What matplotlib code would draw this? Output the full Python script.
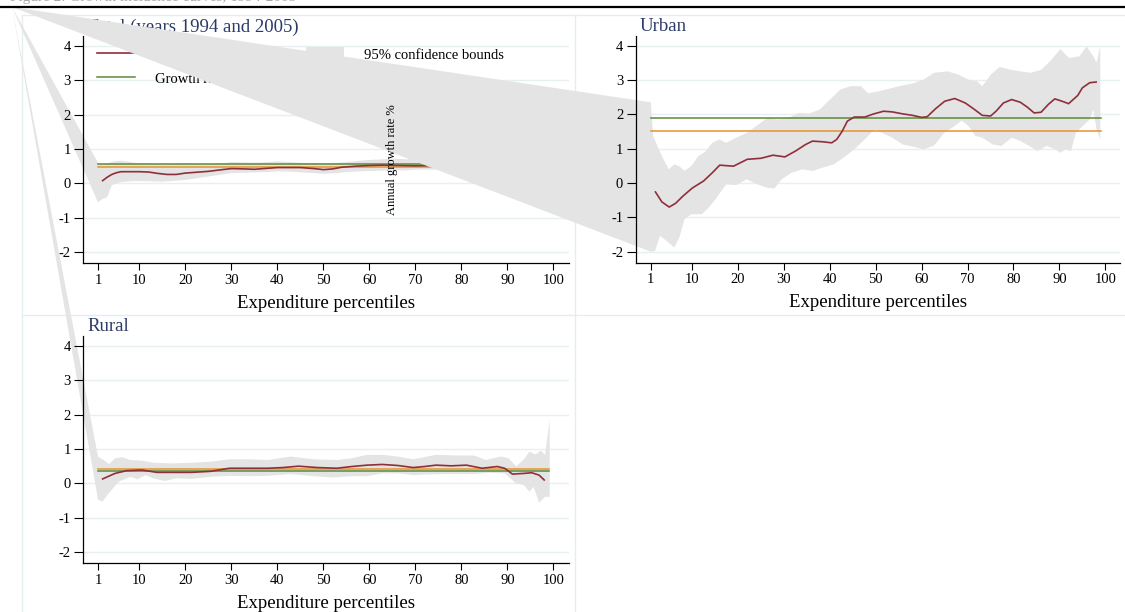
import numpy as np
import matplotlib
matplotlib.use("Agg")
import matplotlib.pyplot as plt
from matplotlib.lines import Line2D
from matplotlib.patches import Patch, Polygon
from matplotlib.transforms import IdentityTransform

plt.rcParams['font.family'] = ['Liberation Serif', 'DejaVu Serif']
plt.rcParams['axes.unicode_minus'] = False

W, H = 1125, 612

# ---------------- data ----------------
xticks = [1, 10, 20, 30, 40, 50, 60, 70, 80, 90, 100]
yticks = [-2, -1, 0, 1, 2, 3, 4]
pct_span = [1, 99]

# Total
tot_gic_x = [2, 3, 4, 5, 6, 8, 10, 12, 14, 16, 18, 20, 22, 25, 28, 30, 33, 35, 38, 40,
             43, 45, 48, 50, 52, 54, 57, 60, 63, 66, 70, 74, 78, 82, 86, 90, 94, 96, 98]
tot_gic_y = [0.08, 0.18, 0.26, 0.31, 0.34, 0.34, 0.34, 0.33, 0.29, 0.26, 0.26, 0.30, 0.32, 0.35,
             0.40, 0.43, 0.42, 0.41, 0.44, 0.46, 0.46, 0.46, 0.43, 0.40, 0.42, 0.47, 0.50, 0.52,
             0.53, 0.52, 0.51, 0.52, 0.54, 0.53, 0.52, 0.53, 0.50, 0.45, 0.40]
tot_rate_in_mean = 0.56
tot_mean_of_rates = 0.49
tot_band_x = [1, 2, 3, 4, 5, 6, 8, 10, 12, 15, 18, 20, 22, 25, 28, 30, 33, 35, 38, 40,
              43, 45, 48, 50, 53, 55, 58, 60, 63, 65, 68, 70, 74, 78, 82, 86, 90, 93, 95, 97,
              98, 99]
tot_band_hi = [0.60, 0.55, 0.58, 0.62, 0.65, 0.66, 0.62, 0.58, 0.57, 0.55, 0.56, 0.58, 0.56, 0.55,
               0.58, 0.62, 0.61, 0.60, 0.62, 0.64, 0.62, 0.60, 0.59, 0.58, 0.60, 0.62, 0.66, 0.68,
               0.70, 0.72, 0.70, 0.72, 0.72, 0.74, 0.73, 0.72, 0.74, 0.78, 0.90, 1.20, 1.60, 2.80]
tot_band_lo = [-0.55, -0.45, -0.40, -0.05, 0.00, 0.04, 0.06, 0.07, 0.06, 0.05, 0.08, 0.10, 0.14,
               0.20, 0.26, 0.30, 0.31, 0.32, 0.33, 0.35, 0.34, 0.32, 0.30, 0.28, 0.30, 0.33, 0.35,
               0.36, 0.37, 0.38, 0.38, 0.40, 0.40, 0.40, 0.39, 0.38, 0.36, 0.30, 0.20, 0.05, -0.20,
               -0.50]

# Urban
urb_gic_x = [2, 3.4, 5, 6.4, 8, 10, 12.5, 14.4, 16, 19, 22, 25, 27.6, 30.2, 32.5, 34.7, 36.2,
             38.5, 40.4, 41.5, 42.7, 43.8, 45.3, 47.6, 49.5, 51.7, 53.6, 56, 58, 60, 61.2, 63,
             65, 67.2, 69.5, 71.3, 73.2, 75, 76.2, 77.8, 79.6, 81.5, 83, 84.5, 86, 87.6, 89,
             90.6, 92, 94, 95, 96.6, 98]
urb_gic_y = [-0.26, -0.55, -0.70, -0.59, -0.38, -0.15, 0.06, 0.30, 0.52, 0.49, 0.69, 0.72, 0.81,
             0.76, 0.93, 1.12, 1.22, 1.20, 1.17, 1.27, 1.51, 1.80, 1.92, 1.92, 2.01, 2.09, 2.07,
             2.01, 1.97, 1.91, 1.93, 2.16, 2.38, 2.46, 2.33, 2.16, 1.97, 1.95, 2.09, 2.33, 2.43,
             2.35, 2.21, 2.04, 2.06, 2.29, 2.45, 2.38, 2.31, 2.55, 2.77, 2.92, 2.94]
urb_rate_in_mean = 1.89
urb_mean_of_rates = 1.52
urb_hi_x = [1, 1.5, 2.3, 3.4, 4.9, 6.1, 7.2, 8.3, 9.8, 11.3, 12.8, 14.4, 15.9, 17.4, 19.6, 21.9,
            24.2, 26.4, 28.7, 31, 33.2, 35.5, 37.8, 40, 42.3, 44.5, 46.8, 48.3, 50.6, 52.8, 55.1,
            58.1, 60.4, 62.7, 65.7, 67.9, 70.2, 72.1, 73.2, 75.1, 77, 79.3, 81.5, 83.8, 86.1,
            88.3, 90.2, 92.1, 94.4, 95.9, 97.4, 98.1, 98.9]
urb_hi_y = [2.35, 1.37, 1.12, 0.78, 0.40, 0.54, 0.49, 0.35, 0.49, 0.78, 0.90, 1.17, 1.27, 1.17,
            1.32, 1.46, 1.68, 1.90, 1.85, 1.90, 2.04, 2.02, 2.14, 2.43, 2.72, 2.82, 2.82, 2.61,
            2.67, 2.74, 2.82, 2.90, 3.01, 3.21, 3.25, 3.16, 3.01, 2.96, 2.82, 3.16, 3.38, 3.30,
            3.25, 3.21, 3.30, 3.59, 3.90, 3.64, 3.69, 3.98, 3.69, 3.50, 3.98]
urb_lo_x = [1, 1.9, 3.0, 4.5, 6.1, 7.2, 8.3, 9.8, 12.1, 13.6, 15.1, 17.4, 19.6, 21.9, 24.2, 26.4,
            27.9, 29.5, 31.7, 34, 36.2, 38.5, 40.8, 43, 45.3, 47.6, 49.8, 51.3, 53.6, 55.9, 58.1,
            60.4, 62.7, 64.9, 67.2, 68.7, 70.2, 71.7, 73.2, 75.5, 77.4, 79.6, 81.5, 83.4, 85.3,
            87.2, 89.1, 90.2, 91.3, 92.5, 93.6, 94.7, 96.6, 97.4, 98.1, 98.9]
urb_lo_y = [-2.00, -1.98, -1.54, -1.69, -1.88, -1.59, -1.06, -0.91, -0.91, -0.72, -0.47, -0.04,
            -0.06, 0.11, -0.04, -0.14, -0.16, 0.11, 0.30, 0.40, 0.35, 0.45, 0.54, 0.74, 0.98,
            1.27, 1.56, 1.46, 1.32, 1.12, 1.06, 0.98, 1.09, 1.46, 1.66, 1.82, 1.66, 1.37, 1.32,
            1.12, 1.08, 1.32, 1.22, 1.08, 0.93, 1.08, 0.98, 0.88, 0.98, 0.93, 1.46, 1.61, 1.85,
            2.14, 1.56, 1.27]

# Rural
rur_gic_x = [2, 4.7, 7.2, 10.5, 13.8, 17.1, 21.3, 25.4, 29.6, 33.8, 37.9, 41.2, 44.6, 48.7,
             52.9, 56.2, 59.5, 62.8, 66.2, 69.5, 72, 74.5, 77.8, 81.1, 84.5, 87.8, 89.4, 91.1,
             93.6, 95.3, 96.9, 98]
rur_gic_y = [0.13, 0.29, 0.37, 0.39, 0.32, 0.32, 0.32, 0.35, 0.44, 0.44, 0.44, 0.46, 0.50, 0.46,
             0.44, 0.49, 0.53, 0.55, 0.52, 0.46, 0.49, 0.53, 0.51, 0.53, 0.44, 0.49, 0.44, 0.27,
             0.29, 0.31, 0.24, 0.10]
rur_rate_in_mean = 0.36
rur_mean_of_rates = 0.42
rur_hi_x = [1, 2.2, 3.4, 4.7, 6.3, 8, 10.5, 13, 17.1, 21.3, 25.4, 29.6, 33.8, 37.9, 42.9, 47.9,
            52.9, 56.2, 59.5, 62.8, 66.2, 69.5, 74.5, 79.5, 82.8, 85.3, 88.6, 90.3, 91.9, 93.6,
            94.8, 96.1, 97.3, 98.2, 99.2]
rur_hi_y = [0.78, 0.68, 0.56, 0.73, 0.76, 0.68, 0.66, 0.60, 0.58, 0.60, 0.63, 0.70, 0.70, 0.68,
            0.78, 0.70, 0.68, 0.73, 0.83, 0.83, 0.78, 0.70, 0.83, 0.81, 0.81, 0.68, 0.78, 0.73,
            0.49, 0.70, 0.92, 0.84, 0.95, 0.83, 1.84]
rur_lo_x = [1, 2, 3, 4.2, 5.5, 8, 9.6, 11.3, 13, 15.5, 18, 21.3, 25.4, 29.6, 33.8, 37.9, 42.9,
            47.9, 52, 56.2, 59.5, 62.8, 66.2, 69.5, 72.8, 76.1, 79.5, 82.8, 86.1, 89.4, 91.9,
            93.6, 94.8, 95.7, 96.9, 98.2, 99.2]
rur_lo_y = [-0.47, -0.53, -0.34, -0.15, 0.05, 0.19, 0.12, 0.24, 0.15, 0.07, 0.15, 0.13, 0.19,
            0.22, 0.21, 0.22, 0.27, 0.21, 0.17, 0.21, 0.21, 0.29, 0.29, 0.24, 0.26, 0.27, 0.27,
            0.27, 0.31, 0.29, 0.00, -0.05, -0.24, -0.10, -0.56, -0.39, -0.39]

# ---------------- style ----------------
c_gic = '#8f2f3b'
c_mean = '#5b8a36'
c_rates = '#e8922f'
c_band = '#e4e4e4'
c_title = '#2b3a66'
c_grid = '#e8eff1'
c_cell = '#e6edf0'
corner = (12, H - 7)   # every band polygon starts here (pixels)


def px_axes(left, right, top, bottom):
    return fig.add_axes([left / W, 1 - bottom / H, (right - left) / W, (bottom - top) / H])


def band(ax, xh, yh, xl, yl):
    up = ax.transData.transform(np.column_stack([xh, yh]))
    lo = ax.transData.transform(np.column_stack([xl, yl]))[::-1]
    verts = np.vstack([[corner], up, lo])
    ax.add_patch(Polygon(verts, closed=True, transform=IdentityTransform(),
                         facecolor=c_band, edgecolor='none', zorder=1, clip_on=False))


def panel(ax, title, xlim, gx, gy, rmean, rrates, xh, yh, xl, yl):
    ax.set_facecolor('none')
    ax.set_xlim(*xlim)
    ax.set_ylim(-2.32, 4.28)
    for s in ['top', 'right']:
        ax.spines[s].set_visible(False)
    for s in ['left', 'bottom']:
        ax.spines[s].set_linewidth(0.9)
    ax.set_xticks(xticks)
    ax.set_yticks(yticks)
    ax.tick_params(axis='y', direction='out', length=6.5, width=0.8, pad=2.5, labelsize=10.5)
    ax.tick_params(axis='x', direction='out', length=5, width=0.8, pad=2.5, labelsize=10.5)
    for v in yticks:
        ax.axhline(v, color=c_grid, lw=1.0, zorder=0.2)
    ax.set_xlabel('Expenditure percentiles', fontsize=13.5, labelpad=6)
    ax.annotate(title, xy=(0, 1), xycoords='axes fraction', xytext=(3, 6.5),
                textcoords='offset points', ha='left', va='center', fontsize=13.5, color=c_title)
    band(ax, xh, yh, xl, yl)
    ax.plot(pct_span, [rmean, rmean], color=c_mean, lw=1.1, zorder=2)
    ax.plot(pct_span, [rrates, rrates], color=c_rates, lw=1.1, zorder=2)
    ax.plot(gx, gy, color=c_gic, lw=1.2, zorder=3)


fig = plt.figure(figsize=(W / 100, H / 100), dpi=100)
fig.patch.set_facecolor('white')

# cell outlines
for xs, ys in [([22, 22], [15, H]), ([575, 575], [15, H]), ([22, W], [15, 15]), ([22, W], [315, 315])]:
    fig.add_artist(Line2D([x / W for x in xs], [1 - y / H for y in ys], color=c_cell,
                          lw=1.0, zorder=-1))

# top rule and the caption above it, cut off by the top edge as in the source
fig.add_artist(Line2D([0, 1], [1 - 6.5 / H, 1 - 6.5 / H], color='black', lw=1.6))
fig.text(10 / W, 1 - 1.5 / H, 'Figure 2: Growth incidence curves, 1994-2005',
         fontsize=11, color='#a8a8a8', ha='left', va='baseline')

ax_tot = px_axes(83.3, 569, 36, 263.3)
panel(ax_tot, 'Total (years 1994 and 2005)', (-2.2, 103.4), tot_gic_x, tot_gic_y,
      tot_rate_in_mean, tot_mean_of_rates, tot_band_x, tot_band_hi, tot_band_x, tot_band_lo)

handles = [Line2D([], [], color=c_gic, lw=1.2),
           Line2D([], [], color=c_mean, lw=1.1),
           Patch(facecolor=c_band, edgecolor='none'),
           Line2D([], [], color=c_rates, lw=1.1)]
labels = ['Growth incidence curve', 'Growth rate in mean',
          '95% confidence bounds', 'Mean growth rate']
ax_tot.legend(handles, labels, ncol=2, loc='upper left', bbox_to_anchor=(0.013, 0.985),
              frameon=False, fontsize=10.5, handlelength=2.6, handleheight=1.25,
              handletextpad=1.35, columnspacing=0.8, labelspacing=0.55, borderpad=0)

ax_urb = px_axes(635.7, 1120, 36, 262.7)
panel(ax_urb, 'Urban', (-2.3, 103.2), urb_gic_x, urb_gic_y,
      urb_rate_in_mean, urb_mean_of_rates, urb_hi_x, urb_hi_y, urb_lo_x, urb_lo_y)

ax_rur = px_axes(83.3, 569, 336, 563.3)
panel(ax_rur, 'Rural', (-2.2, 103.4), rur_gic_x, rur_gic_y,
      rur_rate_in_mean, rur_mean_of_rates, rur_hi_x, rur_hi_y, rur_lo_x, rur_lo_y)

fig.text(392 / W, 1 - 160 / H, 'Annual growth rate %', rotation=90, fontsize=9,
         ha='center', va='center')

fig.savefig('out.png', dpi=100)
